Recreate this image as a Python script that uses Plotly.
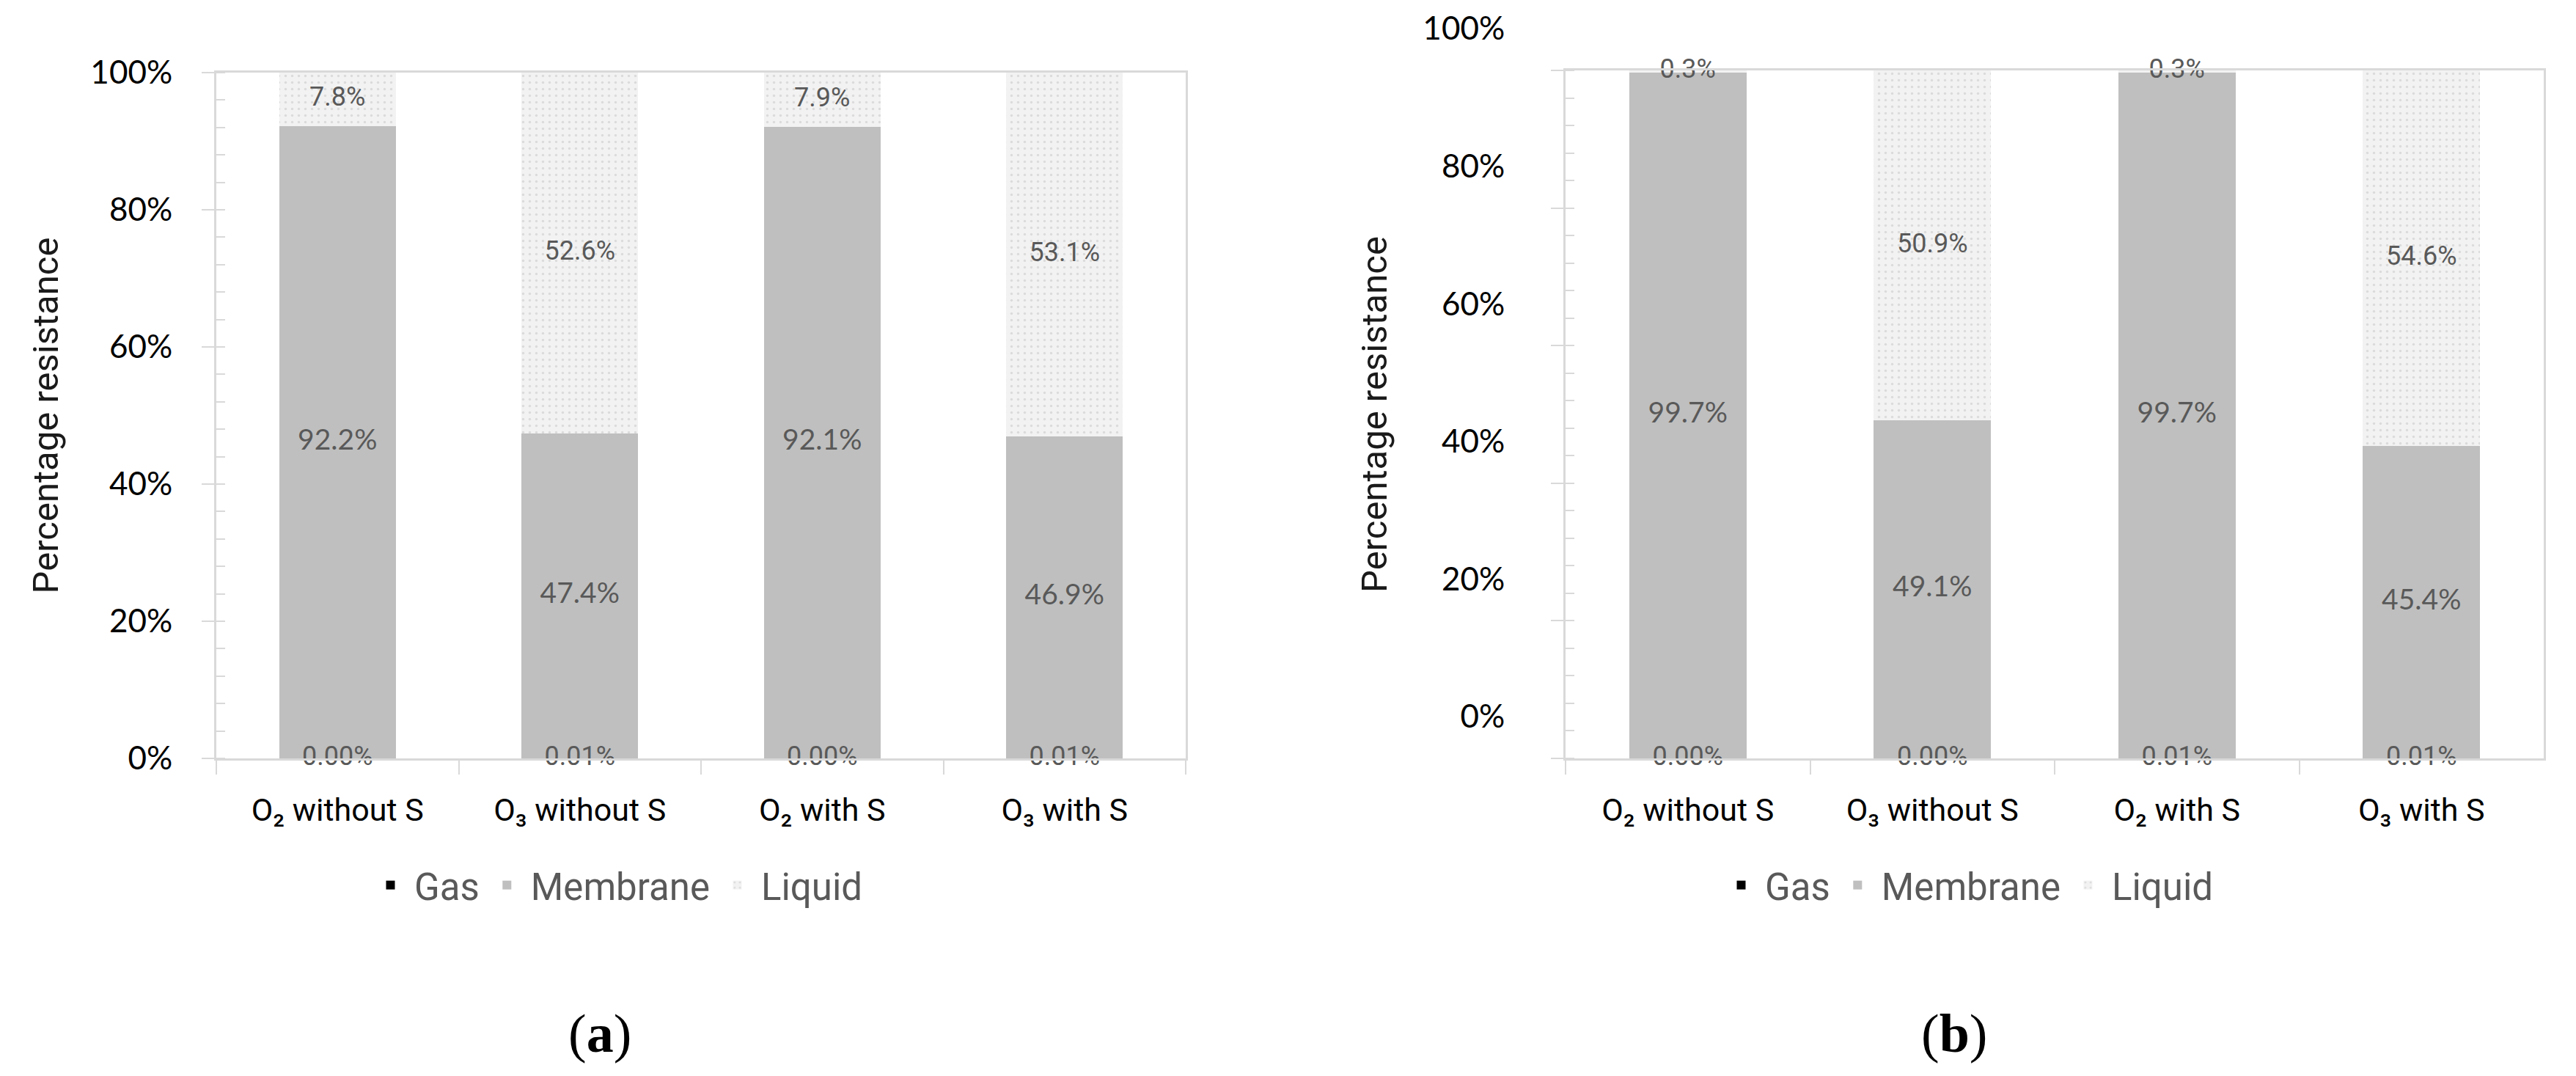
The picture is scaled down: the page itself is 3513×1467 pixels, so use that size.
import plotly.graph_objects as go

# ---------------- data ----------------
categories = ["O₂ without S", "O₃ without S", "O₂ with S", "O₃ with S"]

gas_a = [0.00, 0.01, 0.00, 0.01]
membrane_a = [92.2, 47.4, 92.1, 46.9]
liquid_a = [7.8, 52.6, 7.9, 53.1]

gas_b = [0.00, 0.00, 0.01, 0.01]
membrane_b = [99.7, 49.1, 99.7, 45.4]
liquid_b = [0.3, 50.9, 0.3, 54.6]

y_ticks = [0, 20, 40, 60, 80, 100]
y_tick_labels = ["0%", "20%", "40%", "60%", "80%", "100%"]
series_names = ["Gas", "Membrane", "Liquid"]
captions = ["(<b>a</b>)", "(<b>b</b>)"]

# ---------------- styles ----------------
W, H = 3513, 1467
AX = "#d9d9d9"
LBL = "#595959"
CAT_FONT = dict(family="Roboto, Liberation Sans, sans-serif", size=43, color="#000000")
TICK_FONT = dict(family="Lato, DejaVu Sans, sans-serif", size=44, color="#000000")
TITLE_FONT = dict(family="Roboto, Liberation Sans, sans-serif", size=49, color="#1a1a1a")
NARROW_LBL = dict(family="Roboto, Liberation Sans, sans-serif", size=36, color=LBL)
WIDE_LBL = dict(family="Lato, DejaVu Sans, sans-serif", size=39, color=LBL)
LEG_FONT = dict(family="Roboto, Liberation Sans, sans-serif", size=51, color=LBL)

liquid_marker = dict(color="#f2f2f2",
                     pattern=dict(shape=".", fgcolor="#c4c4c4", bgcolor="#f2f2f2",
                                  size=9, solidity=0.12),
                     line=dict(width=0))

fig = go.Figure()

panels = [
    dict(gas=gas_a, mem=membrane_a, liq=liquid_a, xa="x", ya="y", leg="legend"),
    dict(gas=gas_b, mem=membrane_b, liq=liquid_b, xa="x2", ya="y2", leg="legend2"),
]

for p in panels:
    fig.add_trace(go.Bar(name=series_names[0], x=categories, y=p["gas"],
                         marker=dict(color="#000000", line=dict(width=0)),
                         xaxis=p["xa"], yaxis=p["ya"], legend=p["leg"], hoverinfo="skip"))
    fig.add_trace(go.Bar(name=series_names[1], x=categories, y=p["mem"],
                         marker=dict(color="#bfbfbf", line=dict(width=0)),
                         xaxis=p["xa"], yaxis=p["ya"], legend=p["leg"], hoverinfo="skip"))
    fig.add_trace(go.Bar(name=series_names[2], x=categories, y=p["liq"],
                         marker=liquid_marker,
                         xaxis=p["xa"], yaxis=p["ya"], legend=p["leg"], hoverinfo="skip"))

    # data labels, positioned at the middle of each stacked segment
    gas_mid = [g / 2 for g in p["gas"]]
    mem_mid = [g + m / 2 for g, m in zip(p["gas"], p["mem"])]
    liq_mid = [g + m + l / 2 for g, m, l in zip(p["gas"], p["mem"], p["liq"])]
    fig.add_trace(go.Scatter(x=categories, y=gas_mid, mode="text",
                             text=[f"{v:.2f}%" for v in p["gas"]], textfont=NARROW_LBL,
                             xaxis=p["xa"], yaxis=p["ya"], showlegend=False,
                             cliponaxis=False, hoverinfo="skip"))
    fig.add_trace(go.Scatter(x=categories, y=mem_mid, mode="text",
                             text=[f"{v:.1f}%" for v in p["mem"]], textfont=WIDE_LBL,
                             xaxis=p["xa"], yaxis=p["ya"], showlegend=False,
                             cliponaxis=False, hoverinfo="skip"))
    fig.add_trace(go.Scatter(x=categories, y=liq_mid, mode="text",
                             text=[f"{v:.1f}%" for v in p["liq"]], textfont=NARROW_LBL,
                             xaxis=p["xa"], yaxis=p["ya"], showlegend=False,
                             cliponaxis=False, hoverinfo="skip"))


def xaxis_style(domain, anchor):
    return dict(domain=domain, anchor=anchor, type="category",
                showline=True, linecolor=AX, linewidth=3, mirror=True,
                ticks="outside", tickson="boundaries", ticklen=19,
                tickcolor=AX, tickwidth=2, tickfont=CAT_FONT,
                showgrid=False, zeroline=False, ticklabelstandoff=30)


def yaxis_style(domain, anchor, standoff, shift, title_standoff):
    return dict(domain=domain, anchor=anchor, range=[0, 100],
                tickmode="array", tickvals=y_ticks, ticktext=y_tick_labels,
                showline=True, linecolor=AX, linewidth=3, mirror=True,
                ticks="outside", ticklen=17, tickcolor=AX, tickwidth=2,
                minor=dict(dtick=4, ticks="inside", ticklen=12, tickcolor=AX, tickwidth=2),
                tickfont=TICK_FONT, showgrid=False, zeroline=False,
                ticklabelstandoff=standoff, ticklabelshift=shift,
                title=dict(text="Percentage resistance", font=TITLE_FONT,
                           standoff=title_standoff))


y_bottom = (H - 1026) / H
fig.update_layout(
    width=W, height=H,
    margin=dict(l=0, r=0, t=0, b=0, autoexpand=False),
    paper_bgcolor="white", plot_bgcolor="white",
    barmode="stack", bargap=0.52,
    xaxis=xaxis_style([287 / W, 1609 / W], "y"),
    yaxis=yaxis_style([y_bottom, (H - 91) / H], "x", 31, 0, 29),
    xaxis2=xaxis_style([2127 / W, 3461 / W], "y2"),
    yaxis2=yaxis_style([y_bottom, (H - 88) / H], "x2", 54, -57, 34),
    legend=dict(orientation="h", x=833 / W, y=(H - 1199) / H,
                xanchor="center", yanchor="middle", font=LEG_FONT, itemwidth=55,
                traceorder="normal", bgcolor="rgba(0,0,0,0)"),
    legend2=dict(orientation="h", x=2675 / W, y=(H - 1199) / H,
                 xanchor="center", yanchor="middle", font=LEG_FONT, itemwidth=55,
                 traceorder="normal", bgcolor="rgba(0,0,0,0)"),
    showlegend=True,
)

cap_font = dict(family="Liberation Serif, Times New Roman, serif", size=74, color="#000000")
fig.add_annotation(text=captions[0], x=810 / W, y=(H - 1401) / H, xref="paper", yref="paper",
                   showarrow=False, font=cap_font, xanchor="center", yanchor="middle")
fig.add_annotation(text=captions[1], x=2657 / W, y=(H - 1401) / H, xref="paper", yref="paper",
                   showarrow=False, font=cap_font, xanchor="center", yanchor="middle")

fig.write_html("out.html")
